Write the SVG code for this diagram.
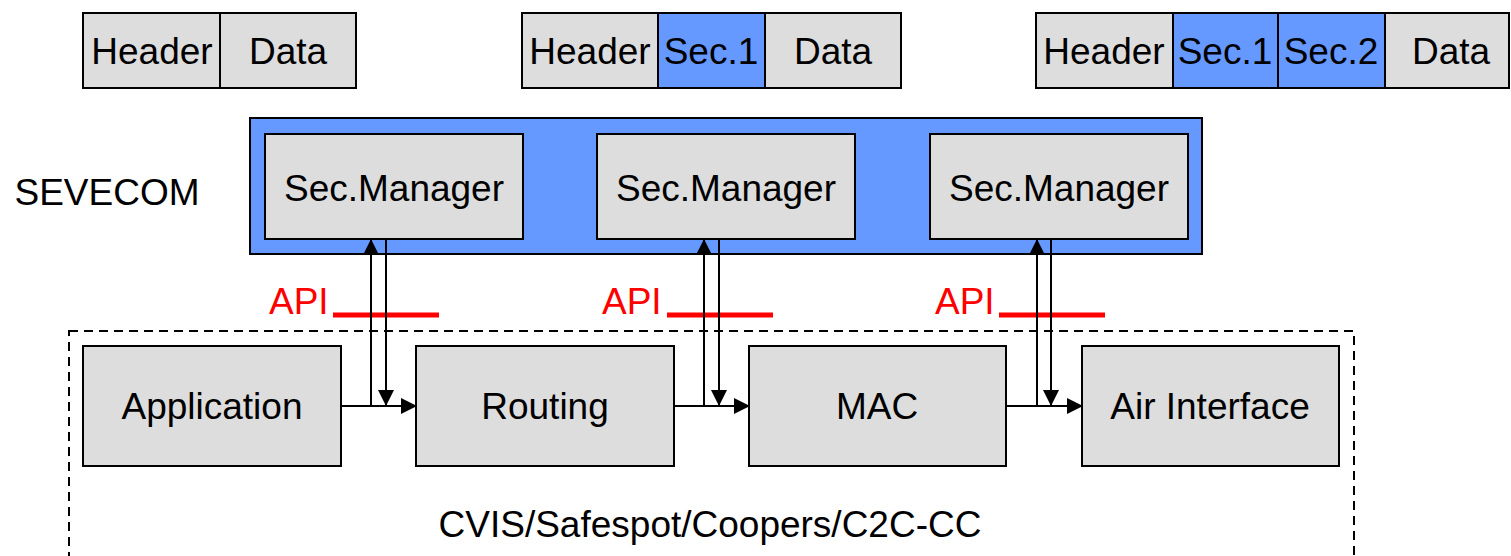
<svg xmlns="http://www.w3.org/2000/svg" width="1511" height="556" viewBox="0 0 1511 556">
<style>
.box{fill:#DDDDDD;stroke:#000;stroke-width:2}
.sec{fill:#6699FF;stroke:#000;stroke-width:2}
.t{font-family:"Liberation Sans",Arial,sans-serif;font-size:37px;fill:#000;text-anchor:middle}
.api{font-family:"Liberation Sans",Arial,sans-serif;font-size:37px;fill:#FF0000}
.ln{stroke:#000;stroke-width:2;fill:none}
.red{stroke:#FF0000;stroke-width:5}
</style>
<defs>
<marker id="ah" markerUnits="userSpaceOnUse" markerWidth="16" markerHeight="16" viewBox="0 0 16 16" refX="15" refY="8" orient="auto">
<path d="M0,0 L16,8 L0,16 Z" fill="#000"/>
</marker>
</defs>
<rect width="1511" height="556" fill="#fff"/>

<g id="packet1">
<rect class="box" x="83" y="13" width="137" height="75"/>
<rect class="box" x="220" y="13" width="136" height="75"/>
<text class="t" x="152" y="64">Header</text>
<text class="t" x="288" y="64">Data</text>
</g>
<g id="packet2">
<rect class="box" x="522" y="13" width="136" height="75"/>
<rect class="sec" x="658" y="13" width="107" height="75"/>
<rect class="box" x="765" y="13" width="136" height="75"/>
<text class="t" x="590" y="64">Header</text>
<text class="t" x="711" y="64">Sec.1</text>
<text class="t" x="833" y="64">Data</text>
</g>
<g id="packet3">
<rect class="box" x="1036" y="13" width="137" height="75"/>
<rect class="sec" x="1173" y="13" width="105" height="75"/>
<rect class="sec" x="1278" y="13" width="107" height="75"/>
<rect class="box" x="1385" y="13" width="124" height="75"/>
<text class="t" x="1104" y="64">Header</text>
<text class="t" x="1225" y="64">Sec.1</text>
<text class="t" x="1331" y="64">Sec.2</text>
<text class="t" x="1451" y="64">Data</text>
</g>

<g id="sevecom">
<rect class="sec" x="250" y="118" width="952" height="136"/>
<text class="t" x="107" y="205">SEVECOM</text>
</g>
<g id="secmgr1">
<rect class="box" x="265" y="134" width="258" height="105"/>
<text class="t" x="394" y="201">Sec.Manager</text>
</g>
<g id="secmgr2">
<rect class="box" x="597" y="134" width="258" height="105"/>
<text class="t" x="726" y="201">Sec.Manager</text>
</g>
<g id="secmgr3">
<rect class="box" x="930" y="134" width="258" height="105"/>
<text class="t" x="1059" y="201">Sec.Manager</text>
</g>

<g id="stack">
<rect x="69" y="331" width="1285" height="240" fill="none" stroke="#000" stroke-width="2" stroke-dasharray="9,6"/>
<text class="t" x="710" y="537">CVIS/Safespot/Coopers/C2C-CC</text>
</g>
<g id="application">
<rect class="box" x="83" y="346" width="258" height="120"/>
<text class="t" x="212" y="419">Application</text>
</g>
<g id="routing">
<rect class="box" x="416" y="346" width="258" height="120"/>
<text class="t" x="545" y="419">Routing</text>
</g>
<g id="mac">
<rect class="box" x="749" y="346" width="257" height="120"/>
<text class="t" x="877" y="419">MAC</text>
</g>
<g id="air">
<rect class="box" x="1082" y="346" width="257" height="120"/>
<text class="t" x="1210" y="419">Air Interface</text>
</g>

<g id="api-labels">
<text class="api" x="269" y="314">API</text>
<line class="red" x1="333" y1="315" x2="439" y2="315"/>
<text class="api" x="602" y="314">API</text>
<line class="red" x1="667" y1="315" x2="773" y2="315"/>
<text class="api" x="935" y="314">API</text>
<line class="red" x1="999" y1="315" x2="1105" y2="315"/>
</g>

<g id="connectors">
<line class="ln" x1="341" y1="406" x2="416" y2="406" marker-end="url(#ah)"/>
<line class="ln" x1="371" y1="406" x2="371" y2="240" marker-end="url(#ah)"/>
<line class="ln" x1="386" y1="240" x2="386" y2="405" marker-end="url(#ah)"/>
<line class="ln" x1="674" y1="406" x2="749" y2="406" marker-end="url(#ah)"/>
<line class="ln" x1="704" y1="406" x2="704" y2="240" marker-end="url(#ah)"/>
<line class="ln" x1="719" y1="240" x2="719" y2="405" marker-end="url(#ah)"/>
<line class="ln" x1="1006" y1="406" x2="1082" y2="406" marker-end="url(#ah)"/>
<line class="ln" x1="1037" y1="406" x2="1037" y2="240" marker-end="url(#ah)"/>
<line class="ln" x1="1051" y1="240" x2="1051" y2="405" marker-end="url(#ah)"/>
</g>
</svg>
